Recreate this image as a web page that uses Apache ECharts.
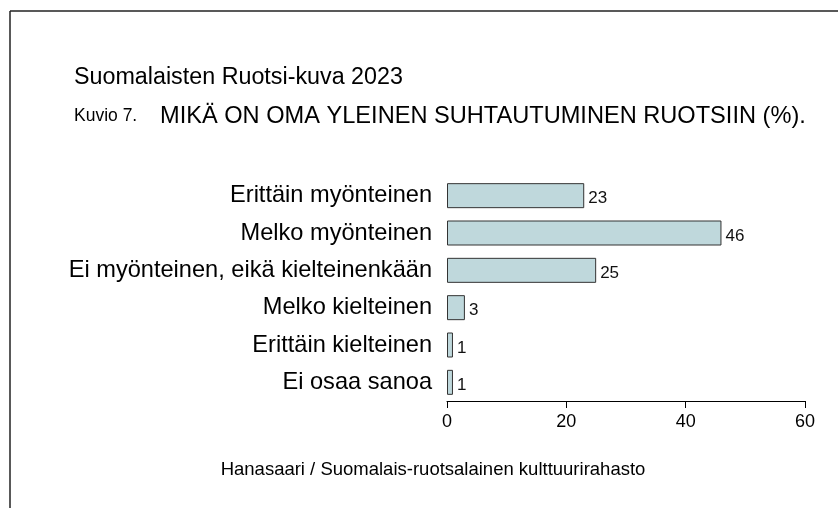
<!DOCTYPE html>
<html>
<head>
<meta charset="utf-8">
<script src="https://cdn.jsdelivr.net/npm/echarts@6/dist/echarts.min.js"></script>
<style>
  html, body { margin: 0; padding: 0; background: #fff; }
  #chart { width: 838px; height: 508px; }
</style>
</head>
<body>
<div id="chart"></div>
<script>
const categories = [
  'Erittäin myönteinen',
  'Melko myönteinen',
  'Ei myönteinen, eikä kielteinenkään',
  'Melko kielteinen',
  'Erittäin kielteinen',
  'Ei osaa sanoa'
]
const values = [23, 46, 25, 3, 1, 1]
const xTicks = [0, 20, 40, 60]

const font = '"Liberation Sans", Arial, sans-serif'
const chart = echarts.init(document.getElementById('chart'))

chart.setOption({
  animation: false,
  grid: { left: 447, right: 33, top: 177, height: 224 },
  xAxis: {
    type: 'value',
    min: xTicks[0],
    max: xTicks[xTicks.length - 1],
    interval: 20,
    axisLine: { show: true, lineStyle: { color: '#000', width: 1 } },
    axisTick: { show: true, length: 7, lineStyle: { color: '#000' } },
    axisLabel: { color: '#000', fontSize: 18, fontFamily: font, margin: 12 },
    splitLine: { show: false }
  },
  yAxis: {
    type: 'category',
    inverse: true,
    data: categories,
    axisLine: { show: false },
    axisTick: { show: false },
    axisLabel: { color: '#000', fontSize: 23.6, fontFamily: font, margin: 15, padding: [5, 0, 0, 0] }
  },
  series: [{
    type: 'bar',
    data: values,
    barWidth: 25,
    itemStyle: { color: '#bfd8dc', borderColor: '#333', borderWidth: 1 },
    label: {
      show: true,
      position: 'right',
      distance: 4,
      offset: [0, 3],
      color: '#111',
      fontSize: 17,
      fontFamily: font
    }
  }],
  graphic: [
    { type: 'line', shape: { x1: 10, y1: 11, x2: 838, y2: 11 }, style: { stroke: '#222', lineWidth: 1.5 } },
    { type: 'line', shape: { x1: 10, y1: 11, x2: 10, y2: 508 }, style: { stroke: '#222', lineWidth: 1.5 } },
    { type: 'text', style: { x: 74, y: 78, text: 'Suomalaisten Ruotsi-kuva 2023', font: '23.3px ' + font, fill: '#000', verticalAlign: 'middle' } },
    { type: 'text', style: { x: 74, y: 116, text: 'Kuvio 7.', font: '17.5px ' + font, fill: '#000', verticalAlign: 'middle' } },
    { type: 'text', style: { x: 160, y: 116, text: 'MIKÄ ON OMA YLEINEN SUHTAUTUMINEN RUOTSIIN (%).', font: '23.6px ' + font, fill: '#000', verticalAlign: 'middle' } },
    { type: 'text', style: { x: 433, y: 470, text: 'Hanasaari / Suomalais-ruotsalainen kulttuurirahasto', font: '18.5px ' + font, fill: '#000', align: 'center', verticalAlign: 'middle' } }
  ]
})
</script>
</body>
</html>
